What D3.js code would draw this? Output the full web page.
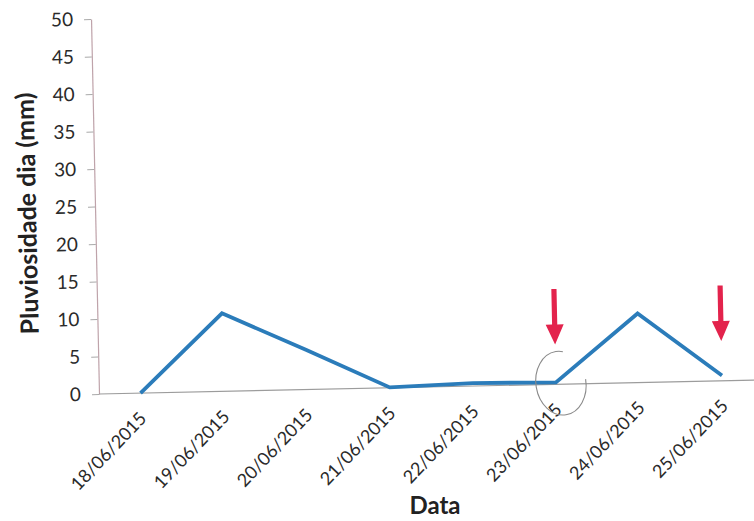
<!DOCTYPE html>
<html>
<head>
<meta charset="utf-8">
<script src="https://cdn.jsdelivr.net/npm/d3@7"></script>
<style>
  body { margin: 0; background: #fff; }
  svg { display: block; font-family: Lato, 'Open Sans', sans-serif; }
</style>
</head>
<body>
<div id="graphic"></div>
<script>
// dias e chuva diaria (mm)
var dates = ['18/06/2015', '19/06/2015', '20/06/2015', '21/06/2015',
             '22/06/2015', '23/06/2015', '24/06/2015', '25/06/2015']
var rain = [0, 10.4, 5.3, 0.05, 0.4, 0.25, 9.2, 0.7]
var yTicks = [0, 5, 10, 15, 20, 25, 30, 35, 40, 45, 50]

// marcas a mao no grafico
var arrowDates = ['23/06/2015', '25/06/2015']
var arrowFrom = 12.7
var arrowTo = 5.3
var circleDate = '23/06/2015'

var width = 754
var height = 521
var x0 = 99, y0 = 394

var svg = d3.select('#graphic')
  .append('svg')
  .attr('width', width)
  .attr('height', height)

svg.append('rect').attr('width', width).attr('height', height).attr('fill', '#fff')

// the scan is slightly tilted
var g = svg.append('g').attr('transform', `rotate(-1.22, ${x0}, ${y0})`)

var x = d3.scalePoint().domain(dates).range([x0, x0 + 8 * 83.1]).padding(0.5)
var y = d3.scaleLinear().domain([0, 50]).range([y0, 19])

// y axis
var yAxis = g.append('g')
  .attr('transform', `translate(${x0},0)`)
  .call(d3.axisLeft(y).tickValues(yTicks).tickSize(7).tickPadding(11).tickSizeOuter(0))
yAxis.select('.domain').attr('stroke', '#bfa3aa').attr('stroke-width', 1.2)
yAxis.selectAll('.tick line').attr('stroke', '#a9a9a9')
yAxis.selectAll('text').attr('font-size', 19).attr('fill', '#2a2a2a').attr('font-family', 'Lato')

// x axis line
g.append('line')
  .attr('x1', x0).attr('x2', x0 + 8 * 83.1)
  .attr('y1', y0).attr('y2', y0)
  .attr('stroke', '#9c9c9c').attr('stroke-width', 1.2)

g.selectAll('.xlab')
  .data(dates)
  .enter().append('text')
  .attr('class', 'xlab')
  .attr('transform', d => `translate(${x(d) + 2},${y0 + 22}) rotate(-45)`)
  .attr('text-anchor', 'end')
  .attr('dy', '0.35em')
  .attr('font-size', 18)
  .attr('fill', '#2a2a2a')
  .text(d => d)

// line
var line = d3.line()
  .x((d, i) => x(dates[i]))
  .y(d => y(d))

g.append('path')
  .datum(rain)
  .attr('d', line)
  .attr('fill', 'none')
  .attr('stroke', '#2b7cba')
  .attr('stroke-width', 3.8)
  .attr('stroke-linejoin', 'miter')

// pencil circle
var cx = x(circleDate) + 5
var cy = y(0) - 1
g.append('ellipse')
  .attr('cx', cx).attr('cy', cy)
  .attr('rx', 25).attr('ry', 32)
  .attr('transform', `rotate(-8, ${cx}, ${cy})`)
  .attr('pathLength', 100)
  .attr('stroke-dasharray', '79 21')
  .attr('fill', 'none')
  .attr('stroke', '#8a8a8a')
  .attr('stroke-width', 1.1)

// red arrows
arrowDates.forEach(d => {
  var ax = x(d)
  var top = y(arrowFrom)
  var tip = y(arrowTo)
  var headH = 20, headW = 9, shaft = 2.6
  var p = d3.path()
  p.moveTo(ax - shaft, top)
  p.lineTo(ax + shaft, top)
  p.lineTo(ax + shaft, tip - headH)
  p.lineTo(ax + headW, tip - headH)
  p.lineTo(ax, tip)
  p.lineTo(ax - headW, tip - headH)
  p.lineTo(ax - shaft, tip - headH)
  p.closePath()
  g.append('path').attr('d', p.toString()).attr('fill', '#e3234c')
})

// axis titles
g.append('text')
  .attr('transform', `translate(${40},${212}) rotate(-90)`)
  .attr('text-anchor', 'middle')
  .attr('font-size', 25)
  .attr('font-weight', 'bold')
  .attr('fill', '#222')
  .text('Pluviosidade dia (mm)')

svg.append('text')
  .attr('x', 435)
  .attr('y', 514)
  .attr('text-anchor', 'middle')
  .attr('font-size', 24)
  .attr('font-weight', 'bold')
  .attr('fill', '#222')
  .text('Data')
</script>
</body>
</html>
